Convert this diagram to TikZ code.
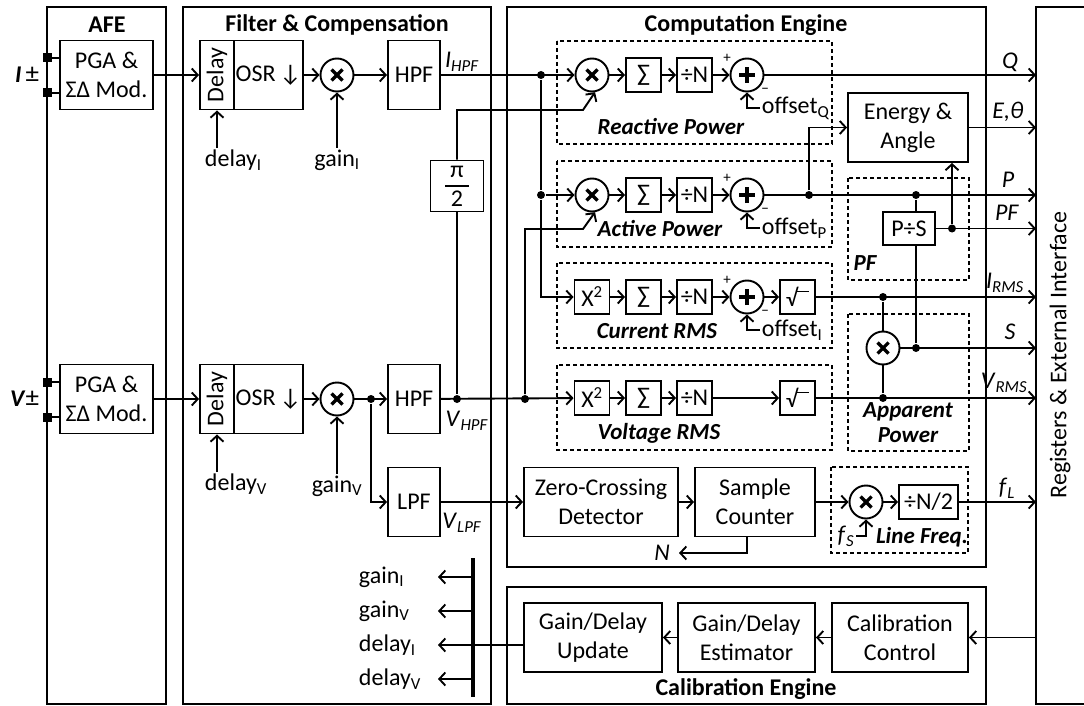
\documentclass[tikz,border=0pt]{standalone}
\usepackage{fontspec}
\setmainfont{Carlito}
\usetikzlibrary{arrows.meta,positioning}

\newcommand{\fs}{\fontsize{24}{29}\selectfont}
\newcommand{\gs}{\fontsize{23}{25}\selectfont}
\newcommand{\ts}{\fontsize{15}{16}\selectfont}
\newcommand{\sig}[2]{\textit{#1}\textsubscript{\textit{#2}}}
\newcommand{\rt}{√\kern-0.6pt\rule[14.5pt]{12pt}{1.3pt}}

\begin{document}
\begin{tikzpicture}[
    x=1pt, y=-1pt,
    line width=1.9pt,
    font=\fs,
    >={Straight Barb[length=6pt,width=13pt]},
    panel/.style={draw, line width=1.9pt},
    grp/.style={draw, line width=1.5pt, dash pattern=on 4pt off 3pt},
    blk/.style={draw, rectangle, inner sep=0pt, align=center, minimum width=#1, minimum height=69pt},
    blk/.default=52pt,
    sm/.style={draw, rectangle, inner sep=0pt, minimum width=35pt, minimum height=34pt},
    mul/.style={draw, circle, inner sep=0pt, minimum size=33pt, path picture={
        \draw[line width=3.2pt] ([shift={(-5.5pt,-5.5pt)}]path picture bounding box.center) -- ([shift={(5.5pt,5.5pt)}]path picture bounding box.center);
        \draw[line width=3.2pt] ([shift={(-5.5pt,5.5pt)}]path picture bounding box.center) -- ([shift={(5.5pt,-5.5pt)}]path picture bounding box.center);}},
    add/.style={draw, circle, inner sep=0pt, minimum size=33pt, path picture={
        \draw[line width=3.2pt] ([xshift=-8pt]path picture bounding box.center) -- ([xshift=8pt]path picture bounding box.center);
        \draw[line width=3.2pt] ([yshift=-8pt]path picture bounding box.center) -- ([yshift=8pt]path picture bounding box.center);}},
    dot/.style={circle, fill, inner sep=0pt, minimum size=8pt},
    pin/.style={rectangle, fill, inner sep=0pt, minimum size=9pt},
    ttl/.style={font=\fs\bfseries},
    grpname/.style={font=\gs\bfseries\itshape, align=center},
    sgn/.style={font=\ts, inner sep=0pt},
    lbl/.style={inner sep=1pt}
  ]
  \useasboundingbox (0,0) rectangle (1084,706);
  % panels
  \draw[panel] (47,7) rectangle (166,704);
  \draw[panel] (183,7) rectangle (491,704);
  \draw[panel] (507,7) rectangle (986,567);
  \draw[panel] (507,587) rectangle (986,704);
  \draw[panel] (1084,7) -| (1036,704) -- (1084,704);
  \node[ttl] (tafe) at (107,25) {AFE};
  \node[ttl] (tfil) at (337,25) {Filter \& Compensation};
  \node[ttl] (tcmp) at (746,25) {Computation Engine};
  \node[ttl] (tcal) at (746,689) {Calibration Engine};
  \node[rotate=90] (treg) at (1060,355) {Registers \& External Interface};
  \coordinate (reg) at (1036,355);

  % AFE
  \node[blk=93pt] (pgaI) at (106.5,75) {PGA \&\\ΣΔ Mod.};
  \node[blk=93pt] (pgaV) at (106.5,399) {PGA \&\\ΣΔ Mod.};
  \node[pin] (pI1) at (47,58) {};
  \node[pin] (pI2) at (47,93) {};
  \node[pin] (pV1) at (47,382) {};
  \node[pin] (pV2) at (47,417) {};
  \draw (pI1) -- (pI1 -| pgaI.west);
  \draw (pI2) -- (pI2 -| pgaI.west);
  \draw (pV1) -- (pV1 -| pgaV.west);
  \draw (pV2) -- (pV2 -| pgaV.west);
  \node[lbl, anchor=east] (inI) at (41,75) {\textbf{\textit{I}}\,{\fontsize{27}{29}\selectfont ±}};
  \node[lbl, anchor=east] (inV) at (41,399) {\textbf{\textit{V}}{\fontsize{27}{29}\selectfont ±}};

  % filter & compensation
  \node[blk=34pt] (dlyI) at (217,75) {\rotatebox{90}{Delay}};
  \node[blk=69pt] (osrI) at (268.5,75) {OSR\,↓};
  \node[mul] (gI) at (337,75) {};
  \node[blk] (hpfI) at (414,75) {HPF};
  \node[lbl] (gIin) at (337,160) {gain\textsubscript{I}};
  \node[lbl, anchor=west] (dIin) at (203,160) {delay\textsubscript{I}};
  \node[blk=34pt] (dlyV) at (217,399) {\rotatebox{90}{Delay}};
  \node[blk=69pt] (osrV) at (268.5,399) {OSR\,↓};
  \node[mul] (gV) at (337,399) {};
  \node[blk] (hpfV) at (414,399) {HPF};
  \node[blk] (lpf) at (414,502) {LPF};
  \node[lbl] (gVin) at (337,486) {gain\textsubscript{V}};
  \node[lbl, anchor=west] (dVin) at (203,484) {delay\textsubscript{V}};
  \node[sm, minimum width=53pt, minimum height=51pt, align=center,
        path picture={\draw[line width=1.4pt] ([xshift=-12pt]path picture bounding box.center) -- ([xshift=12pt]path picture bounding box.center);}] (pi) at (457,186) {π\\2};
  \node[dot] (dV0) at (371,399) {};
  \node[dot] (dV1) at (457,399) {};
  \node[lbl] (lIh) at (462,62) {\sig{I}{HPF}};
  \node[lbl] (lVh) at (467,421) {\sig{V}{HPF}};
  \node[lbl] (lVl) at (462,523) {\sig{V}{LPF}};

  \draw[->] (pgaI) -- (dlyI);
  \draw[->] (osrI) -- (gI);
  \draw[->] (gI) -- (hpfI);
  \draw[->] (gIin) -- (gI);
  \draw[->] (dIin.north -| dlyI) -- (dlyI);
  \draw[->] (pgaV) -- (dlyV);
  \draw[->] (osrV) -- (gV);
  \draw[->] (gV) -- (hpfV);
  \draw[->] (gVin) -- (gV);
  \draw[->] (dVin.north -| dlyV) -- (dlyV);
  \draw[->] (dV0) |- (lpf);

  % computation engine
  \draw[grp] (557,41) rectangle (832,144);
  \draw[grp] (557,161) rectangle (832,247);
  \draw[grp] (557,263) rectangle (832,348);
  \draw[grp] (557,365) rectangle (832,450);
  \draw[grp] (848,178) rectangle (969,280);
  \draw[grp] (848,314) rectangle (969,451);
  \draw[grp] (831,467) rectangle (968,553);
  \node[grpname] (gnQ) at (671,127) {Reactive Power};
  \node[grpname] (gnP) at (660,229) {Active Power};
  \node[grpname] (gnI) at (657,331) {Current RMS};
  \node[grpname] (gnV) at (659,433) {Voltage RMS};
  \node[grpname] (gnF) at (865,263) {PF};
  \node[grpname] (gnS) at (908,423) {Apparent\\Power};
  \node[grpname] (gnL) at (922,537) {Line Freq.};

  \node[mul] (mQ) at (592,75) {};
  \node[sm] (sQ) at (643.5,75) {∑};
  \node[sm] (nQ) at (694.5,75) {÷N};
  \node[add] (aQ) at (747,75) {};
  \node[mul] (mP) at (592,195) {};
  \node[sm] (sP) at (643.5,195) {∑};
  \node[sm] (nP) at (694.5,195) {÷N};
  \node[add] (aP) at (747,195) {};
  \node[sm] (xI) at (592,297) {X\textsuperscript{2}};
  \node[sm] (sI) at (643.5,297) {∑};
  \node[sm] (nI) at (694.5,297) {÷N};
  \node[add] (aI) at (747,297) {};
  \node[sm] (rI) at (797.5,297) {\rt};
  \node[sm] (xV) at (592,398) {X\textsuperscript{2}};
  \node[sm] (sV) at (643.5,398) {∑};
  \node[sm] (nV) at (694.5,398) {÷N};
  \node[sm] (rV) at (797.5,398) {\rt};
  \foreach \r in {Q,P,I} {
    \node[sgn] (pl\r) at ([shift={(-20pt,17pt)}]a\r) {+};
    \node[sgn] (mi\r) at ([shift={(18pt,-16pt)}]a\r) {−};
  }
  \node[lbl, anchor=west] (oQ) at (760,108) {offset\textsubscript{Q}};
  \node[lbl, anchor=west] (oP) at (760,228) {offset\textsubscript{P}};
  \node[lbl, anchor=west] (oI) at (760,330) {offset\textsubscript{I}};

  \node[blk=120pt] (eng) at (908,127.5) {Energy \&\\Angle};
  \node[sm, minimum width=52pt, minimum height=33pt] (ps) at (909,228.5) {P÷S};
  \node[mul] (mS) at (883,348) {};
  \node[dot] (dI1) at (541,75) {};
  \node[dot] (dI2) at (541,195) {};
  \node[dot] (dV2) at (525,399) {};
  \node[dot] (dP1) at (809,195) {};
  \node[dot] (dP2) at (916,195) {};
  \node[dot] (dF) at (952,228.5) {};
  \node[dot] (dA) at (883,297) {};
  \node[dot] (dB) at (883,398) {};
  \node[dot] (dS) at (916,348) {};
  \coordinate (kQ) at (583,110);
  \coordinate (kP) at (583,229);

  \draw[->] (hpfI) -- (mQ);
  \draw (dI1) -- (dI2);
  \draw[->] (dI2) -- (mP);
  \draw[->] (dI2) |- (xI);
  \draw[->] (hpfV) -- (xV);
  \draw (dV1) -- (pi);
  \draw[->] (pi) |- (kQ) -- (mQ.-80);
  \draw[->] (dV2) |- (kP) -- (mP.-80);
  \foreach \r in {Q,P} {
    \draw[->] (m\r) -- (s\r);
    \draw[->] (s\r) -- (n\r);
    \draw[->] (n\r) -- (a\r);
    \draw[->] (o\r.west) -| (a\r);
  }
  \draw[->] (xI) -- (sI);
  \draw[->] (sI) -- (nI);
  \draw[->] (nI) -- (aI);
  \draw[->] (oI.west) -| (aI);
  \draw[->] (aI) -- (rI);
  \draw[->] (xV) -- (sV);
  \draw[->] (sV) -- (nV);
  \draw[->] (nV) -- (rV);

  \draw[->] (aQ) -- (aQ -| reg);
  \draw[->] (aP) -- (aP -| reg);
  \draw[->] (dP1) |- (eng);
  \draw[->] (eng) -- (eng -| reg);
  \draw (dP2) -- (dP2 |- ps.north);
  \draw[->] (ps) -- (ps -| reg);
  \draw[->] (dF) -- (dF |- eng.south);
  \draw (dP2 |- ps.south) -- (dS);
  \draw[->] (rI) -- (rI -| reg);
  \draw[->] (rV) -- (rV -| reg);
  \draw (dA) -- (mS);
  \draw (dB) -- (mS);
  \draw[->] (mS) -- (mS -| reg);

  \node[lbl] (lQ) at (1010,62) {\textit{Q}};
  \node[lbl] (lE) at (1008,112) {\textit{E,θ}};
  \node[lbl] (lP) at (1008,180) {\textit{P}};
  \node[lbl] (lF) at (1007,213) {\textit{PF}};
  \node[lbl] (lI) at (1005,283) {\sig{I}{RMS}};
  \node[lbl] (lS) at (1010,332) {\textit{S}};
  \node[lbl] (lV) at (1004,383) {\sig{V}{RMS}};
  \node[lbl] (lL) at (1007,488) {\sig{f}{L}};

  % zero crossing and line frequency
  \node[blk=154pt] (zc) at (601,502) {Zero-Crossing\\Detector};
  \node[blk=120pt] (sc) at (755,502) {Sample\\Counter};
  \node[mul] (mF) at (866,502) {};
  \node[sm, minimum width=59pt] (nF) at (928.5,502) {÷N/2};
  \node[lbl] (fS) at (846,536) {\sig{f}{S}};
  \node[lbl] (lN) at (662,553) {\textit{N}};
  \coordinate (tipN) at (679,553);
  \draw[->] (lpf) -- (zc);
  \draw[->] (zc) -- (sc);
  \draw[->] (sc) -- (mF);
  \draw[->] (mF) -- (nF);
  \draw[->] (nF) -- (nF -| reg);
  \draw[->] (fS.east) -| (mF);
  \draw[->] ([xshift=-8pt]sc.south) |- (tipN);

  % calibration engine
  \node[blk=138pt] (upd) at (593,637.5) {Gain/Delay\\Update};
  \node[blk=137pt] (est) at (746.5,637.5) {Gain/Delay\\Estimator};
  \node[blk=136pt] (cc) at (900,637.5) {Calibration\\Control};
  \draw[->] (reg |- cc) -- (cc);
  \draw[->] (cc) -- (est);
  \draw[->] (est) -- (upd);

  \coordinate (busT) at (473,558);
  \coordinate (busB) at (473,697);
  \draw[line width=4pt] (busT) -- (busB);
  \foreach \y/\nm/\txt in {577/gI/gain\textsubscript{I}, 611/gV/gain\textsubscript{V},
                          645/dI/delay\textsubscript{I}, 679/dV/delay\textsubscript{V}} {
    \coordinate (b\nm) at (473,\y);
    \coordinate (t\nm) at (438,\y);
    \node[lbl, anchor=west] (c\nm) at (357,\y) {\txt};
    \draw[->] (b\nm) -- (t\nm);
  }
  \draw (upd.west |- bdI) -- (bdI);
\end{tikzpicture}
\end{document}
